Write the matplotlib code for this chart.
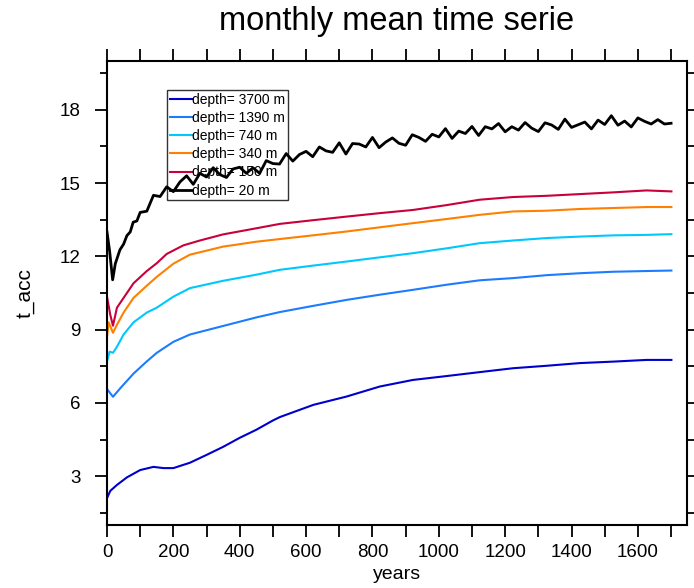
import numpy as np
import matplotlib
matplotlib.use("Agg")
import matplotlib.pyplot as plt
from matplotlib.ticker import MultipleLocator

plt.rcParams['font.family'] = ['Liberation Sans', 'DejaVu Sans']

# values (years, t_acc)
labels = ["depth= 3700 m", "depth= 1390 m", "depth= 740 m",
          "depth= 340 m", "depth= 150 m", "depth= 20 m"]
colors = ["#0000cc", "#1c7cff", "#00c8ff", "#ff8000", "#c8003c", "black"]

yrs_3700 = [0, 10, 30, 60, 100, 140, 170, 200, 250, 300, 350, 400, 450, 500, 521, 622,
            722, 822, 922, 1024, 1123, 1224, 1325, 1425, 1525, 1626, 1701]
val_3700 = [2.1, 2.4, 2.64, 2.95, 3.25, 3.38, 3.33, 3.33, 3.55, 3.87, 4.2, 4.57, 4.9, 5.28,
            5.42, 5.92, 6.26, 6.67, 6.94, 7.1, 7.26, 7.42, 7.52, 7.63, 7.69, 7.76, 7.76]

yrs_1390 = [0, 18, 40, 80, 120, 150, 200, 250, 350, 450, 521, 620, 723, 822, 922, 1024,
            1123, 1224, 1325, 1425, 1525, 1626, 1701]
val_1390 = [6.57, 6.25, 6.6, 7.2, 7.7, 8.05, 8.5, 8.8, 9.15, 9.5, 9.72, 9.97, 10.22, 10.43,
            10.63, 10.84, 11.02, 11.11, 11.23, 11.31, 11.37, 11.4, 11.42]

yrs_740 = [0, 8, 18, 30, 50, 80, 120, 150, 200, 250, 350, 450, 521, 620, 723, 822, 922,
           1024, 1123, 1224, 1325, 1425, 1525, 1626, 1701]
val_740 = [7.7, 8.1, 8.05, 8.3, 8.8, 9.3, 9.7, 9.9, 10.35, 10.7, 11.0, 11.25, 11.45, 11.62,
           11.79, 11.96, 12.13, 12.33, 12.54, 12.65, 12.75, 12.81, 12.86, 12.88, 12.91]

yrs_340 = [0, 5, 18, 30, 50, 80, 120, 150, 200, 250, 350, 450, 521, 620, 723, 822, 922,
           1024, 1123, 1224, 1325, 1425, 1525, 1626, 1701]
val_340 = [8.7, 9.3, 8.87, 9.2, 9.7, 10.3, 10.8, 11.16, 11.7, 12.07, 12.4, 12.6, 12.71, 12.86,
           13.02, 13.19, 13.36, 13.53, 13.7, 13.84, 13.87, 13.94, 13.98, 14.02, 14.02]

yrs_150 = [0, 10, 18, 30, 50, 80, 120, 150, 180, 230, 280, 350, 450, 521, 620, 723, 822,
           922, 1024, 1123, 1224, 1325, 1425, 1525, 1626, 1701]
val_150 = [10.35, 9.6, 9.16, 9.9, 10.3, 10.9, 11.4, 11.72, 12.1, 12.45, 12.65, 12.9, 13.15,
           13.33, 13.48, 13.63, 13.77, 13.9, 14.1, 14.32, 14.43, 14.48, 14.55, 14.62, 14.7, 14.66]

yrs_20 = [0, 8, 17, 25, 39, 50, 60, 70, 79, 90] + list(range(100, 1701, 20))
val_20 = [13.0, 12.2, 11.04, 11.7, 12.27, 12.5, 12.85, 13.0, 13.4, 13.45,
          13.8, 13.85, 14.5, 14.45, 14.85, 14.65, 15.05, 15.3, 14.95, 15.4,
          15.25, 15.63, 15.35, 15.23, 15.58, 15.65, 15.4, 15.63, 15.4, 15.92,
          15.8, 15.78, 16.21, 15.9, 16.17, 16.3, 16.08, 16.48, 16.32, 16.26,
          16.65, 16.19, 16.62, 16.6, 16.48, 16.87, 16.45, 16.68, 16.85, 16.63,
          16.55, 16.98, 16.87, 16.71, 17.0, 16.89, 17.23, 16.83, 17.13, 17.03,
          17.32, 16.95, 17.31, 17.22, 17.44, 17.1, 17.31, 17.17, 17.48, 17.25,
          17.11, 17.47, 17.38, 17.2, 17.62, 17.28, 17.39, 17.5, 17.22, 17.58,
          17.4, 17.76, 17.37, 17.54, 17.3, 17.67, 17.53, 17.42, 17.6, 17.42, 17.45]

series = [(yrs_3700, val_3700), (yrs_1390, val_1390), (yrs_740, val_740),
          (yrs_340, val_340), (yrs_150, val_150), (yrs_20, val_20)]

fig = plt.figure(figsize=(6.94, 5.88), dpi=100)
ax = fig.add_axes([107/694, 63/588, 580/694, 464/588])

for (x, y), c, lab in zip(series, colors, labels):
    lw = 2.0 if c == "black" else 1.5
    z = 3 if c == "black" else 2
    ax.plot(x, y, color=c, lw=lw, label=lab, zorder=z)

ax.set_xlim(0, 1748)
ax.set_ylim(1, 20)
ax.xaxis.set_major_locator(MultipleLocator(200))
ax.xaxis.set_minor_locator(MultipleLocator(100))
ax.yaxis.set_major_locator(MultipleLocator(3))
ax.yaxis.set_minor_locator(MultipleLocator(1.5))
ax.tick_params(which='both', direction='out', top=True, right=True, width=1.3,
               labelsize=13.5)
ax.tick_params(axis='x', which='both', length=8.5, pad=5)
ax.tick_params(axis='y', which='major', length=9, pad=10)
ax.tick_params(axis='y', which='minor', length=5)
for s in ax.spines.values():
    s.set_linewidth(1.5)

ax.set_title("monthly mean time serie", fontsize=23.5, pad=22)
ax.set_xlabel("years", fontsize=14, labelpad=4)
ax.set_ylabel("t_acc", fontsize=15, labelpad=18)

leg = ax.legend(loc='upper left', bbox_to_anchor=(0.103, 0.9375), fontsize=10,
                frameon=True, fancybox=False, edgecolor='black',
                handlelength=1.6, handletextpad=0.05, labelspacing=0.3,
                borderpad=0.2, borderaxespad=0)
leg.get_frame().set_facecolor('none')
leg.get_frame().set_linewidth(1.0)
leg.set_zorder(2.5)

fig.savefig("out.png", dpi=100)
